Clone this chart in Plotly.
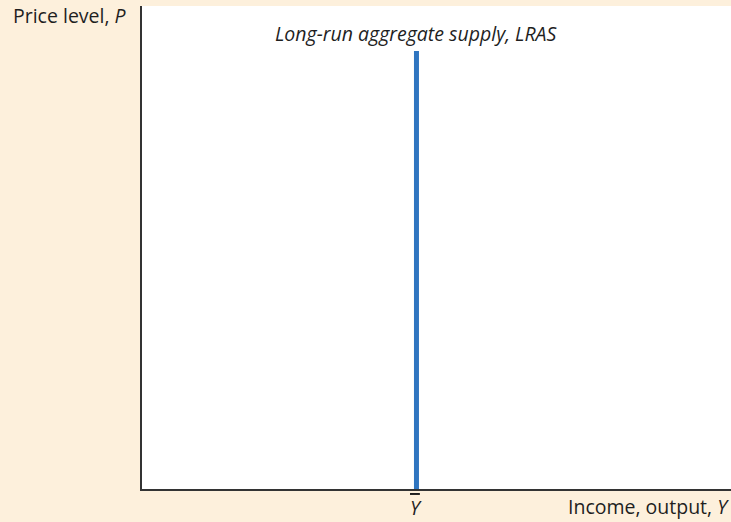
import plotly.graph_objects as go

# Long-run aggregate supply: vertical at natural output level Ybar
ybar_level = [46.6, 46.6]
lras_price = [0, 90.7]

axis_labels = ["Price level, <i>P</i>", "Income, output, <i>Y</i>"]
curve_label = "<i>Long-run aggregate supply, LRAS</i>"
ybar_label = "<i><span style=\"text-decoration:overline\">Y</span></i>"

bg = "#fdf0dc"
ink = "#1f1f1f"
font_family = "Open Sans"

fig = go.Figure()
fig.add_trace(go.Scatter(
    x=ybar_level, y=lras_price, mode="lines",
    line=dict(color="#2f75c0", width=5),
    hoverinfo="skip", showlegend=False,
))

fig.update_layout(
    width=731, height=522,
    margin=dict(l=142, r=0, t=6, b=33),
    paper_bgcolor=bg, plot_bgcolor="white",
    font=dict(family=font_family, color=ink),
    xaxis=dict(range=[0, 100], showgrid=False, zeroline=False, showticklabels=False,
               ticks="", showline=True, linecolor="#333333", linewidth=2, fixedrange=True),
    yaxis=dict(range=[0, 100], showgrid=False, zeroline=False, showticklabels=False,
               ticks="", showline=True, linecolor="#333333", linewidth=2, fixedrange=True),
)

label_font = dict(size=19.5, family=font_family, color=ink)

fig.add_annotation(text=axis_labels[0], xref="paper", yref="paper", x=-0.022, y=1.012,
                   xanchor="right", yanchor="top", showarrow=False, font=label_font)
fig.add_annotation(text=axis_labels[1], xref="paper", yref="paper", x=1.0, y=-0.004,
                   xanchor="right", yanchor="top", showarrow=False, font=label_font)
fig.add_annotation(text=curve_label, x=ybar_level[0], y=lras_price[1], yshift=2,
                   xanchor="center", yanchor="bottom", showarrow=False,
                   font=dict(size=19.5, family=font_family, color=ink))
fig.add_annotation(text=ybar_label, x=ybar_level[0], xref="x", yref="paper", y=-0.006,
                   xanchor="center", yanchor="top", showarrow=False,
                   font=dict(size=19.5, family=font_family, color=ink))

fig.write_html("out.html")
